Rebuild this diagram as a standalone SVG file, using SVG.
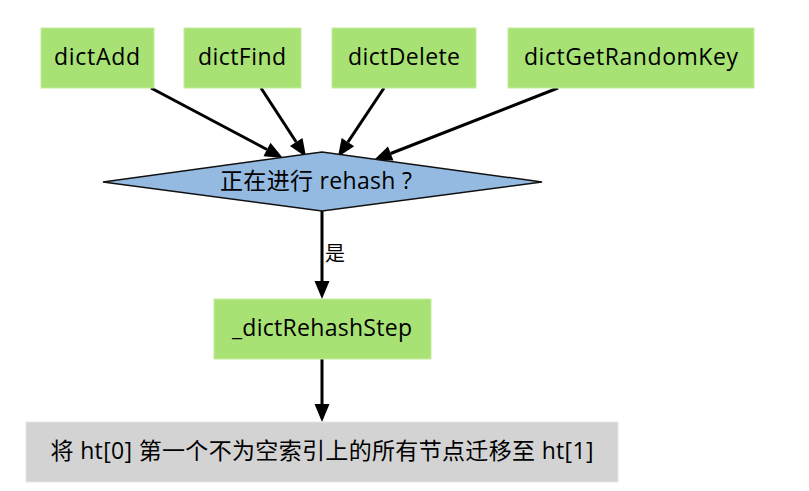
<svg xmlns="http://www.w3.org/2000/svg" width="809" height="491" viewBox="0 0 809 491">
<defs>
<style>
.fn{fill:#a8e274;stroke:#c4eea0;stroke-width:1}
.dec{fill:#94bae2;stroke:#111;stroke-width:1.5}
.out{fill:#d3d3d3;stroke:#e6e6e6;stroke-width:1}
.t{font-family:"Open Sans","Noto Sans CJK SC",sans-serif;font-size:23px;fill:#000;text-anchor:middle}
.tc{font-family:"Open Sans","Noto Sans CJK SC",sans-serif;font-size:23px;fill:#000;text-anchor:middle}
.lbl{font-family:"Noto Sans CJK SC",sans-serif;font-size:20px;fill:#000}
.e{stroke:#000;stroke-width:3;fill:none}
</style>
<marker id="ah" markerUnits="userSpaceOnUse" markerWidth="20" markerHeight="18" viewBox="0 -9 19 18" refX="0" refY="0" orient="auto">
<path d="M0,-7.5 L18,0 L0,7.5 z" fill="#000"/>
</marker>
</defs>
<rect width="809" height="491" fill="#fff"/>
<g id="edges">
<line class="e" x1="151" y1="88" x2="267" y2="149.5" marker-end="url(#ah)"/>
<line class="e" x1="261" y1="88" x2="296.2" y2="142" marker-end="url(#ah)"/>
<line class="e" x1="384" y1="88" x2="347.9" y2="142.1" marker-end="url(#ah)"/>
<line class="e" x1="558" y1="88" x2="390.7" y2="153.5" marker-end="url(#ah)"/>
<line class="e" x1="322" y1="211" x2="322" y2="281" marker-end="url(#ah)"/>
<line class="e" x1="322" y1="359" x2="322" y2="404" marker-end="url(#ah)"/>
<text class="lbl" x="325" y="261">是</text>
</g>
<g id="dictAdd">
<rect class="fn" x="41" y="28" width="113" height="60"/>
<text class="t" x="97" y="65" textLength="86" lengthAdjust="spacing">dictAdd</text>
</g>
<g id="dictFind">
<rect class="fn" x="184" y="28" width="117" height="60"/>
<text class="t" x="242" y="65" textLength="88" lengthAdjust="spacing">dictFind</text>
</g>
<g id="dictDelete">
<rect class="fn" x="332" y="28" width="144" height="60"/>
<text class="t" x="404" y="65" textLength="112" lengthAdjust="spacing">dictDelete</text>
</g>
<g id="dictGetRandomKey">
<rect class="fn" x="508" y="28" width="246" height="60"/>
<text class="t" x="631" y="65" textLength="214" lengthAdjust="spacing">dictGetRandomKey</text>
</g>
<g id="isRehashing">
<polygon class="dec" points="322,152 542,182 322,211 103,182"/>
<text class="tc" x="316" y="189" textLength="192" lengthAdjust="spacing">正在进行 rehash ?</text>
</g>
<g id="dictRehashStep">
<rect class="fn" x="214" y="299" width="217" height="60"/>
<text class="t" x="322" y="336" textLength="180" lengthAdjust="spacing">_dictRehashStep</text>
</g>
<g id="migrate">
<rect class="out" x="26" y="422" width="592" height="60"/>
<text class="tc" x="322" y="459" textLength="543" lengthAdjust="spacing">将 ht[0] 第一个不为空索引上的所有节点迁移至 ht[1]</text>
</g>
</svg>
